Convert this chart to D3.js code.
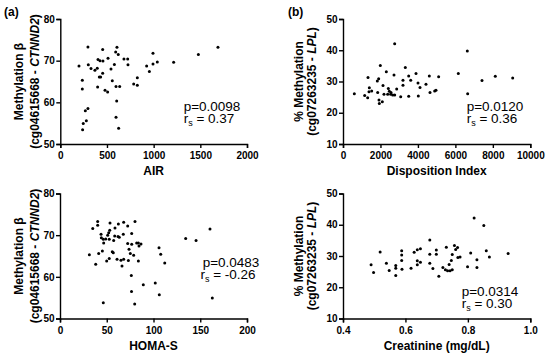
<!DOCTYPE html>
<html>
<head>
<meta charset="utf-8">
<script src="https://cdn.jsdelivr.net/npm/d3@7"></script>
<style>
  body { margin: 0; background: #fff; }
  svg { font-family: 'Liberation Sans', Arial, sans-serif; }
  .tick text { font-size: 10px; font-weight: bold; fill: #000; }
  .domain, .tick line { stroke: #000; stroke-width: 1.4; }
  .title { font-size: 12px; font-weight: bold; }
  .stat { font-size: 13.5px; }
</style>
</head>
<body>
<div id="container"></div>
<script>
// [x, y]
const airPoints = [[296,73.3],[454,72.7],[607,73.2],[593,72.1],[621,71.5],[200,68.7],[300,69.0],[329,68.1],[371,67.7],[396,68.2],[404,70.3],[425,70.0],[457,69.9],[454,67.0],[418,66.1],[432,66.1],[400,63.7],[479,62.9],[507,62.5],[511,70.6],[543,68.0],[557,65.2],[579,69.1],[597,63.8],[636,63.8],[604,60.3],[597,56.4],[625,53.8],[682,70.4],[722,70.4],[725,69.0],[236,65.3],[236,63.2],[268,58.0],[296,58.5],[279,55.6],[246,54.9],[239,53.4],[786,64.4],[825,65.9],[825,64.1],[925,68.7],[954,67.4],[993,71.8],[993,69.2],[1039,69.7],[1214,69.6],[1479,71.5],[1689,73.2]];
const diPoints = [[605,26.1],[1157,25.5],[1317,24.8],[1335,31.3],[1405,28.0],[1388,26.7],[1531,27.0],[1833,30.2],[1905,30.9],[1852,26.5],[1922,24.1],[1940,23.0],[2100,23.5],[1993,35.1],[2136,28.7],[2189,25.9],[2313,33.1],[2420,27.8],[2474,26.9],[2563,26.5],[2385,25.9],[2545,25.9],[2652,25.7],[2759,42.1],[2723,32.1],[2759,25.7],[2866,27.6],[3080,25.1],[3203,30.4],[3203,28.8],[3327,34.5],[3508,31.8],[3615,30.4],[3508,25.3],[3898,32.6],[4004,29.5],[4111,28.1],[4022,25.4],[4431,29.1],[4609,31.8],[4645,26.5],[4894,27.0],[4965,27.2],[5107,31.5],[6637,39.8],[6157,32.6],[6656,26.1],[7421,30.3],[8131,31.7],[9060,31.1]];
const homaPoints = [[31.4,65.3],[35.0,71.6],[38.2,63.0],[40.3,73.3],[40.3,72.4],[41.4,65.6],[43.9,70.2],[44.2,69.4],[45.3,66.2],[46.3,69.0],[46.7,68.1],[46.3,53.8],[48.9,69.1],[49.9,63.8],[51.0,70.0],[52.1,70.6],[52.7,69.0],[52.7,64.4],[53.5,72.9],[53.2,71.2],[55.9,66.0],[57.0,65.8],[57.4,68.7],[58.5,69.8],[58.8,71.7],[61.0,64.2],[62.0,69.7],[62.4,72.7],[63.4,69.5],[65.2,64.0],[66.3,62.6],[67.7,70.2],[68.1,73.1],[68.1,64.2],[72.4,72.2],[72.4,68.0],[73.1,63.9],[73.8,66.6],[75.2,65.6],[76.7,70.4],[76.5,56.5],[76.3,60.3],[76.7,67.8],[78.8,65.2],[80.2,73.3],[79.9,53.5],[82.0,68.1],[83.8,68.1],[84.5,67.4],[86.6,67.9],[83.8,63.8],[89.1,58.1],[101.9,58.5],[105.9,67.0],[107.7,65.4],[112.0,63.3],[106.2,55.7],[134.4,69.2],[145.5,68.7],[160.4,71.5],[162.9,54.9]];
const creatPoints = [[0.490,27.2],[0.498,24.7],[0.519,31.3],[0.539,27.7],[0.548,25.4],[0.569,27.0],[0.569,26.1],[0.569,23.8],[0.588,31.7],[0.588,30.3],[0.588,28.6],[0.589,25.8],[0.618,26.1],[0.628,31.2],[0.638,32.0],[0.648,32.3],[0.638,28.5],[0.638,27.2],[0.648,28.0],[0.678,35.1],[0.678,30.6],[0.678,27.7],[0.688,26.0],[0.699,31.9],[0.699,30.6],[0.707,23.5],[0.720,26.3],[0.731,32.8],[0.728,25.6],[0.735,25.3],[0.743,25.3],[0.740,27.3],[0.750,25.6],[0.747,28.6],[0.750,30.5],[0.757,33.4],[0.761,32.1],[0.767,32.7],[0.768,29.5],[0.775,29.7],[0.799,26.6],[0.809,31.0],[0.820,42.2],[0.851,39.8],[0.829,28.8],[0.829,26.3],[0.859,31.7],[0.869,29.7],[0.929,30.8]];

const airTicks = [0, 500, 1000, 1500, 2000];
const diTicks = [0, 2000, 4000, 6000, 8000, 10000];
const homaTicks = [0, 50, 100, 150, 200];
const creatTicks = [0.4, 0.6, 0.8, 1.0];
const betaTicks = [50, 60, 70, 80];
const pctTicks = [10, 20, 30, 40, 50];

const w = 550,
  h = 355;

const svg = d3.select('#container').append('svg').attr('width', w).attr('height', h);

svg.append('text').attr('class', 'title').attr('x', 4).attr('y', 16).text('(a)');
svg.append('text').attr('class', 'title').attr('x', 288).attr('y', 16).text('(b)');

function drawPanel(p) {
  const x = d3.scaleLinear().domain(p.xDomain).range([p.left, p.right]);
  const y = d3.scaleLinear().domain(p.yDomain).range([p.bottom, p.top]);

  svg
    .append('g')
    .attr('transform', 'translate(0,' + p.bottom + ')')
    .call(d3.axisBottom(x).tickValues(p.xTicks).tickSize(4).tickPadding(4).tickFormat(p.xFormat || d3.format('d')));
  svg
    .append('g')
    .attr('transform', 'translate(' + p.left + ',0)')
    .call(d3.axisLeft(y).tickValues(p.yTicks).tickSize(4).tickPadding(1.5).tickFormat(d3.format('d')));
  svg.selectAll('g').attr('font-family', null).attr('font-size', null);

  svg
    .append('g')
    .selectAll('circle')
    .data(p.points)
    .enter()
    .append('circle')
    .attr('cx', (d) => x(d[0]))
    .attr('cy', (d) => y(d[1]))
    .attr('r', 1.5)
    .attr('fill', '#000');

  // axis titles
  svg
    .append('text')
    .attr('class', 'title')
    .attr('x', (p.left + p.right) / 2)
    .attr('y', p.bottom + 31)
    .attr('text-anchor', 'middle')
    .text(p.xLabel);

  const cy = (p.top + p.bottom) / 2;
  svg
    .append('text')
    .attr('class', 'title')
    .attr('text-anchor', 'middle')
    .attr('transform', 'translate(' + p.yl1 + ',' + cy + ') rotate(-90)')
    .text(p.yLabel1);
  const yl2 = svg
    .append('text')
    .attr('class', 'title')
    .attr('text-anchor', 'middle')
    .attr('transform', 'translate(' + p.yl2 + ',' + cy + ') rotate(-90)');
  yl2.append('tspan').text(p.yLabel2[0]);
  yl2.append('tspan').attr('font-style', 'italic').text(p.yLabel2[1]);
  yl2.append('tspan').text(')');

  // stats, one text block with two lines
  const stat = svg
    .append('text')
    .attr('class', 'stat')
    .attr('y', p.statY)
    .attr('text-anchor', 'middle');
  stat.append('tspan').attr('x', p.statX).text('p=' + p.pval);
  stat.append('tspan').attr('x', p.statX - 3).attr('dy', 12).text('r');
  stat.append('tspan').attr('font-size', '9px').attr('dy', 3).text('s');
  stat.append('tspan').attr('dy', -3).text(' = ' + p.rs);
}

drawPanel({
  points: airPoints,
  xDomain: [0, 2000], yDomain: [50, 80],
  xTicks: airTicks, yTicks: betaTicks,
  left: 60.3, right: 247, top: 19, bottom: 144,
  xLabel: 'AIR',
  yLabel1: 'Methylation \u03b2', yLabel2: ['(cg04615668 - ', 'CTNND2'],
  yl1: 23, yl2: 39,
  statX: 212, statY: 110.5, pval: '0.0098', rs: '0.37'
});

drawPanel({
  points: diPoints,
  xDomain: [0, 10000], yDomain: [10, 50],
  xTicks: diTicks, yTicks: pctTicks,
  left: 343, right: 530.3, top: 19, bottom: 144,
  xLabel: 'Disposition Index',
  yLabel1: '% Methylation', yLabel2: ['(cg07263235 - ', 'LPL'],
  yl1: 303, yl2: 316,
  statX: 495, statY: 110.5, pval: '0.0120', rs: '0.36'
});

drawPanel({
  points: homaPoints,
  xDomain: [0, 200], yDomain: [50, 80],
  xTicks: homaTicks, yTicks: betaTicks,
  left: 60, right: 247, top: 193.5, bottom: 318.5,
  xLabel: 'HOMA-S',
  yLabel1: 'Methylation \u03b2', yLabel2: ['(cg04615668 - ', 'CTNND2'],
  yl1: 23, yl2: 39,
  statX: 231, statY: 266.5, pval: '0.0483', rs: '-0.26'
});

drawPanel({
  points: creatPoints,
  xDomain: [0.4, 1.0], yDomain: [10, 50],
  xTicks: creatTicks, yTicks: pctTicks, xFormat: d3.format('.1f'),
  left: 343, right: 530.3, top: 193.5, bottom: 318.5,
  xLabel: 'Creatinine (mg/dL)',
  yLabel1: '% Methylation', yLabel2: ['(cg07263235 - ', 'LPL'],
  yl1: 303, yl2: 316,
  statX: 490, statY: 295.5, pval: '0.0314', rs: '0.30'
});
</script>
</body>
</html>
